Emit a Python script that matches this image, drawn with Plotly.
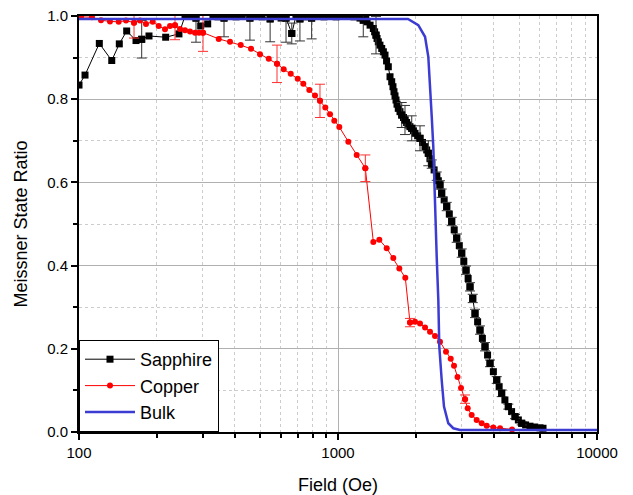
import plotly.graph_objects as go

# ---------------- data ----------------
sapphire_field = [100, 105.5, 119.8, 133.8, 143.1, 152.8, 166.0, 174.6, 186.3, 216.1, 243.2,
                  256.6, 268, 283, 295, 314, 329, 344, 363, 383, 404, 426, 457, 483, 509, 547,
                  576, 603, 630, 663, 688, 713, 750, 791, 836, 883, 931, 983, 1036, 1093, 1153,
                  1216, 1252, 1280, 1295, 1330, 1369, 1385, 1402, 1415, 1431, 1452, 1475, 1497,
                  1519, 1540, 1564, 1588, 1612, 1630, 1645, 1660, 1675, 1690, 1709, 1735, 1762,
                  1790, 1814, 1840, 1868, 1895, 1926, 1955, 1983, 2030, 2073, 2120, 2168, 2200,
                  2232, 2265, 2301, 2350, 2405, 2440, 2476, 2514, 2570, 2629, 2690, 2748, 2810,
                  2873, 2940, 3004, 3060, 3121, 3180, 3234, 3313, 3381, 3460, 3534, 3610, 3695,
                  3780, 3863, 3980, 4101, 4190, 4285, 4410, 4545, 4680, 4825, 4970, 5121, 5300,
                  5512, 5750, 6026, 6188]
sapphire_ratio = [0.834, 0.858, 0.934, 0.893, 0.933, 0.964, 0.941, 0.944, 0.952, 0.949, 0.957,
                  1.0, 1.0, 0.995, 0.976, 0.981, 1.0, 0.998, 0.995, 1.0, 0.998, 1.0, 0.995, 1.0,
                  0.998, 0.993, 1.0, 0.995, 0.995, 0.958, 1.0, 0.993, 0.998, 0.995, 1.0, 0.998,
                  1.0, 0.998, 1.0, 1.0, 0.998, 0.995, 0.990, 0.992, 0.986, 0.978, 0.970, 0.962,
                  0.954, 0.946, 0.938, 0.930, 0.922, 0.914, 0.906, 0.892, 0.878, 0.854, 0.842,
                  0.830, 0.818, 0.808, 0.798, 0.788, 0.778, 0.770, 0.762, 0.756, 0.750, 0.744,
                  0.738, 0.734, 0.730, 0.724, 0.718, 0.712, 0.706, 0.696, 0.686, 0.678, 0.670,
                  0.657, 0.644, 0.630, 0.615, 0.604, 0.594, 0.574, 0.558, 0.542, 0.524, 0.506,
                  0.486, 0.466, 0.448, 0.430, 0.410, 0.389, 0.369, 0.349, 0.321, 0.285, 0.265,
                  0.245, 0.225, 0.205, 0.185, 0.165, 0.145, 0.125, 0.109, 0.093, 0.077, 0.061,
                  0.049, 0.037, 0.029, 0.021, 0.017, 0.014, 0.012, 0.010, 0.009]
sapphire_err = [0, 0, 0, 0, 0, 0, 0, 0.045, 0, 0, 0,
                0, 0, 0.058, 0, 0, 0, 0, 0.045, 0, 0, 0, 0.053, 0, 0, 0.055,
                0, 0, 0.058, 0.025, 0, 0.053, 0, 0.05, 0, 0, 0, 0, 0, 0, 0,
                0, 0.04, 0, 0, 0, 0, 0, 0.045, 0, 0, 0, 0, 0,
                0, 0, 0, 0, 0, 0, 0, 0, 0, 0, 0, 0, 0.03,
                0, 0.035, 0, 0, 0, 0.03, 0, 0, 0, 0.03, 0, 0, 0,
                0.03, 0, 0.01, 0, 0.01, 0, 0.01, 0.01, 0, 0.01, 0, 0.01, 0,
                0.01, 0, 0.01, 0, 0.01, 0, 0.01, 0.01, 0.01, 0, 0.01, 0, 0.01,
                0, 0.008, 0, 0.008, 0, 0.008, 0, 0.006, 0, 0.005, 0, 0.004, 0,
                0, 0, 0, 0]

copper_field = [101.8, 112.2, 121.6, 131.7, 142.3, 151.9, 163.1, 172.0, 181.4, 192.6, 203.1,
                214.8, 224.6, 234.8, 245.5, 256.6, 268.3, 280.5, 290.6, 301.2, 346.3, 382.8,
                421.1, 461.5, 500.0, 540.2, 581.4, 617.1, 656.9, 698.9, 734.5, 774.8, 815.0,
                852.0, 893.4, 931.4, 967.6, 1011.6, 1096, 1181, 1275, 1369, 1444, 1542, 1635,
                1725, 1819, 1897, 1983, 2073, 2168, 2266, 2369, 2476, 2612, 2724, 2805, 2894,
                2985, 3093, 3168, 3282, 3431, 3587, 3751, 3978, 4223, 4700]
copper_ratio = [0.998, 0.997, 0.990, 0.987, 0.986, 0.989, 0.984, 0.989, 0.981, 0.986, 0.976,
                0.968, 0.976, 0.978, 0.969, 0.966, 0.963, 0.960, 0.960, 0.960, 0.945, 0.938,
                0.930, 0.921, 0.908, 0.897, 0.885, 0.872, 0.861, 0.849, 0.837, 0.822, 0.809,
                0.796, 0.780, 0.764, 0.748, 0.733, 0.698, 0.666, 0.634, 0.457, 0.462, 0.442,
                0.418, 0.393, 0.371, 0.263, 0.265, 0.261, 0.251, 0.241, 0.231, 0.217, 0.193,
                0.176, 0.159, 0.132, 0.106, 0.079, 0.057, 0.041, 0.029, 0.021, 0.015, 0.011,
                0.009, 0.006]
copper_err = [0, 0, 0, 0, 0, 0, 0.037, 0, 0, 0, 0,
              0, 0, 0.035, 0, 0, 0, 0, 0, 0.045, 0, 0,
              0, 0, 0, 0, 0.045, 0, 0, 0, 0, 0, 0,
              0.04, 0, 0, 0, 0, 0, 0, 0.032, 0, 0, 0,
              0, 0, 0, 0.01, 0, 0, 0, 0, 0, 0, 0,
              0, 0, 0, 0, 0.01, 0, 0, 0, 0, 0, 0,
              0, 0]

bulk_field = [100, 1863, 2042, 2168, 2232, 2266, 2301, 2333, 2348, 2369, 2405, 2440, 2461,
              2514, 2566, 2666, 2788, 2958, 10000]
bulk_ratio = [0.993, 0.993, 0.978, 0.950, 0.902, 0.838, 0.758, 0.686, 0.622, 0.542, 0.421,
              0.317, 0.205, 0.125, 0.061, 0.021, 0.009, 0.005, 0.005]

x_ticks = [100, 1000, 10000]
x_minor = [200, 300, 400, 500, 600, 700, 800, 900,
           2000, 3000, 4000, 5000, 6000, 7000, 8000, 9000]

FONT = "Arial, Liberation Sans, sans-serif"

fig = go.Figure()

# Sapphire
fig.add_trace(go.Scatter(
    x=sapphire_field, y=sapphire_ratio, name="Sapphire", mode="lines+markers",
    line=dict(color="#000000", width=1),
    marker=dict(symbol="square", size=7, color="#000000")))
s_idx = [i for i, e in enumerate(sapphire_err) if e > 0]
fig.add_trace(go.Scatter(
    x=[sapphire_field[i] for i in s_idx], y=[sapphire_ratio[i] for i in s_idx],
    mode="markers", showlegend=False, hoverinfo="skip",
    marker=dict(symbol="square", size=7, color="#000000"),
    error_y=dict(type="data", array=[sapphire_err[i] for i in s_idx],
                 color="#333333", thickness=1, width=5)))

# Copper
fig.add_trace(go.Scatter(
    x=copper_field, y=copper_ratio, name="Copper", mode="lines+markers",
    line=dict(color="#ff0000", width=1),
    marker=dict(symbol="circle", size=6, color="#ff0000")))
c_idx = [i for i, e in enumerate(copper_err) if e > 0]
fig.add_trace(go.Scatter(
    x=[copper_field[i] for i in c_idx], y=[copper_ratio[i] for i in c_idx],
    mode="markers", showlegend=False, hoverinfo="skip",
    marker=dict(symbol="circle", size=6, color="#ff0000"),
    error_y=dict(type="data", array=[copper_err[i] for i in c_idx],
                 color="#ff3030", thickness=1, width=5)))

# Bulk
fig.add_trace(go.Scatter(
    x=bulk_field, y=bulk_ratio, name="Bulk", mode="lines",
    line=dict(color="#3c3cd2", width=2.5)))

fig.update_layout(
    width=633, height=495,
    margin=dict(l=79, r=36, t=16, b=63, autoexpand=False),
    paper_bgcolor="white", plot_bgcolor="white",
    font=dict(family=FONT, color="#000000", size=15),
    showlegend=True,
    legend=dict(x=0, y=0, xanchor="left", yanchor="bottom",
                bgcolor="white", bordercolor="#000000", borderwidth=1,
                font=dict(size=18, family=FONT), itemwidth=50,
                tracegroupgap=0),
)

fig.update_xaxes(
    type="log", range=[2, 4], automargin=False,
    tickmode="array", tickvals=x_ticks, ticktext=[str(v) for v in x_ticks],
    ticks="outside", ticklen=6, tickwidth=1.5, tickcolor="#000000",
    showline=True, linecolor="#000000", linewidth=2, mirror=True,
    showgrid=True, gridcolor="#b0b0b0", gridwidth=1,
    minor=dict(tickmode="array", tickvals=x_minor, ticks="outside", ticklen=4,
               tickcolor="#000000", tickwidth=1.5,
               showgrid=True, gridcolor="#cccccc", griddash="dot", gridwidth=1),
    title=dict(text="Field (Oe)", font=dict(size=18, family=FONT), standoff=18),
    tickfont=dict(size=15, family=FONT),
    zeroline=False,
)

fig.update_yaxes(
    range=[0, 1.0], tick0=0, dtick=0.2, tickformat=".1f", automargin=False,
    ticks="outside", ticklen=6, tickwidth=1.5, tickcolor="#000000",
    showline=True, linecolor="#000000", linewidth=2, mirror=True,
    showgrid=True, gridcolor="#b0b0b0", gridwidth=1,
    minor=dict(dtick=0.1, ticks="outside", ticklen=4, tickcolor="#000000", tickwidth=1.5,
               showgrid=True, gridcolor="#cccccc", griddash="dot", gridwidth=1),
    title=dict(text="Meissner State Ratio", font=dict(size=18, family=FONT), standoff=15),
    tickfont=dict(size=15, family=FONT),
    zeroline=False,
)

fig.write_html("out.html", config={"displayModeBar": False},
               post_script="document.body.style.margin='0px';document.body.style.padding='0px';")
